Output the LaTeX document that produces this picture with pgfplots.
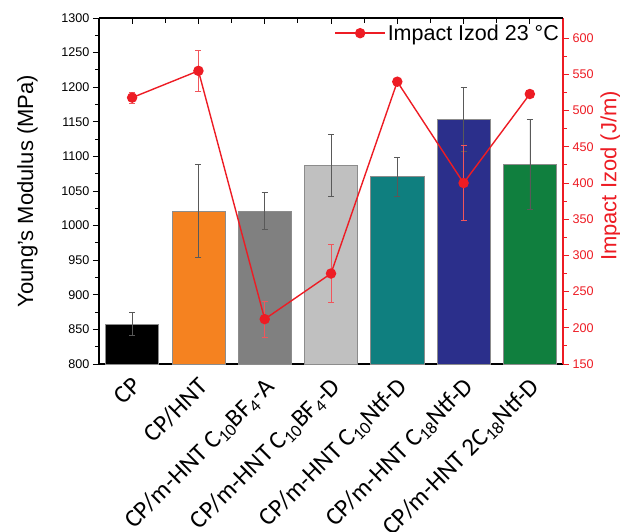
\documentclass[border=0pt]{standalone}
\usepackage{fontspec}
\setmainfont{Liberation Sans}
\newfontfamily\labelfont{Carlito}
\usepackage{pgfplots}
\pgfplotsset{compat=1.18}

\definecolor{izred}{RGB}{237,28,36}
\definecolor{cporange}{RGB}{245,130,32}
\definecolor{cpgray}{RGB}{128,128,128}
\definecolor{cplight}{RGB}{192,192,192}
\definecolor{cpteal}{RGB}{15,127,127}
\definecolor{cpnavy}{RGB}{43,47,139}
\definecolor{cpgreen}{RGB}{16,127,62}

\pgfplotsset{
  common/.style={
    scale only axis, width=464pt, height=346pt,
    xmin=-0.5, xmax=6.5,
    /pgf/number format/assume math mode=true,
    /pgf/number format/1000 sep={},
    major tick length=6pt, minor tick length=3.5pt,
  },
  barerr/.style={
    error bars/.cd, y dir=both, y explicit,
    error bar style={line width=0.6pt, black!65},
    error mark options={rotate=90, mark size=3pt, line width=0.6pt, black!65},
  },
  onebar/.style={ybar, bar width=0.8, bar shift=0pt, fill=#1, draw=black!45, line width=0.6pt},
}

\begin{document}
\begin{tikzpicture}
\useasboundingbox (-99pt,-167pt) rectangle (521pt,364pt);

% bars, left axis
\begin{axis}[common,
  ymin=800, ymax=1300,
  axis y line*=left,
  axis line style={line width=1.2pt},
  tick align=outside,
  ytick={800,850,...,1300}, minor y tick num=1,
  ytick style={black, line width=0.9pt},
  yticklabel style={font=\fontsize{12.6}{15}\selectfont},
  xtick={0,...,6}, xtick style={draw=none},
  xticklabels={CP, CP/HNT, CP/m-HNT C\textsubscript{10}BF\textsubscript{4}-A,
    CP/m-HNT C\textsubscript{10}BF\textsubscript{4}-D, CP/m-HNT C\textsubscript{10}Ntf-D,
    CP/m-HNT C\textsubscript{18}Ntf-D, CP/m-HNT 2C\textsubscript{18}Ntf-D},
  xticklabel style={rotate=45, anchor=north east, font=\labelfont\fontsize{25}{30}\selectfont,
    inner sep=1pt, xshift=-4pt, yshift=-2pt},
  ylabel={Young's Modulus (MPa)},
  ylabel style={font=\fontsize{22}{26}\selectfont, yshift=17pt},
]
\addplot[onebar=black, barerr] coordinates {(0,858) +- (0,17)};
\addplot[onebar=cporange, barerr] coordinates {(1,1021) +- (0,67)};
\addplot[onebar=cpgray, barerr] coordinates {(2,1021) +- (0,27)};
\addplot[onebar=cplight, barerr] coordinates {(3,1087) +- (0,45)};
\addplot[onebar=cpteal, barerr] coordinates {(4,1071) +- (0,28)};
\addplot[onebar=cpnavy, barerr] coordinates {(5,1154) +- (0,46)};
\addplot[onebar=cpgreen, barerr] coordinates {(6,1088) +- (0,65)};
\end{axis}

% impact line, right axis
\begin{axis}[common,
  ymin=150, ymax=628,
  axis y line*=right, axis x line=none,
  y axis line style={izred, line width=1.2pt},
  tick align=outside,
  ytick={150,200,...,600}, minor y tick num=1,
  tick style={izred, line width=0.9pt},
  yticklabel style={izred, font=\fontsize{12.6}{15}\selectfont},
  ylabel={Impact Izod (J/m)},
  ylabel style={izred, font=\fontsize{22}{26}\selectfont, xshift=15pt},
  legend style={draw=none, fill=none, at={(0.998,0.99)}, anchor=north east,
    font=\fontsize{21.5}{26}\selectfont, inner sep=1pt},
  legend image code/.code={
    \draw[izred, line width=1.4pt] (0cm,0cm) -- (1.75cm,0cm);
    \fill[izred] (0.875cm,0cm) circle (4.5pt);},
]
\addplot[izred, line width=1.4pt, mark=*, mark size=4.5pt,
  error bars/.cd, y dir=both, y explicit,
  error bar style={izred!75, line width=0.6pt},
  error mark options={rotate=90, mark size=3pt, line width=0.6pt, izred!75}]
  coordinates {
  (0,518) +- (0,8)
  (1,555) +- (0,28)
  (2,212) +- (0,25)
  (3,275) +- (0,40)
  (4,540) +- (0,5)
  (5,400) +- (0,52)
  (6,523) +- (0,3)
  };
\addlegendentry{Impact Izod 23 °C}
\end{axis}

% top ticks pointing inward
\begin{axis}[common,
  ymin=0, ymax=1,
  axis x line*=top, axis y line=none,
  axis line style={line width=1.2pt},
  tick align=inside,
  xtick={0,...,6}, minor x tick num=1, xticklabels={},
  tick style={black, line width=0.9pt},
  minor tick length=5pt,
]
\end{axis}
\end{tikzpicture}
\end{document}
